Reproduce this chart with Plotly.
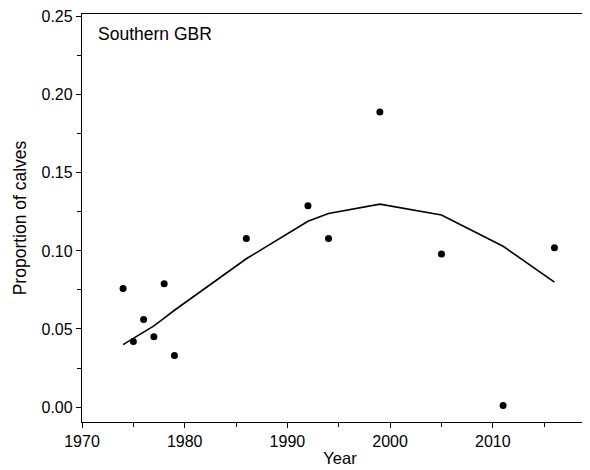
"""
Proportion of calves per year, Southern GBR
"""

import plotly.graph_objects as go

# observed proportions
anos = [1974, 1975, 1976, 1977, 1978, 1979, 1986, 1992, 1994, 1999, 2005, 2011, 2016]
proporcao = [0.076, 0.042, 0.056, 0.045, 0.079, 0.033, 0.108, 0.129, 0.108, 0.189, 0.098, 0.001, 0.102]

# fitted trend at the same years
ajuste = [0.040, 0.044, 0.048, 0.052, 0.057, 0.062, 0.095, 0.119, 0.124, 0.130, 0.123, 0.103, 0.080]

FONTE = "Liberation Sans, Arial, sans-serif"

fig = go.Figure()

fig.add_trace(
    go.Scatter(
        x=anos,
        y=ajuste,
        mode="lines",
        line=dict(color="black", width=1.6),
        showlegend=False
    )
)

fig.add_trace(
    go.Scatter(
        x=anos,
        y=proporcao,
        mode="markers",
        marker=dict(color="black", size=7),
        showlegend=False
    )
)

fig.add_annotation(
    text="Southern GBR",
    xref="paper",
    yref="paper",
    x=0.0,
    y=0.95,
    xshift=14,
    xanchor="left",
    yanchor="middle",
    showarrow=False,
    font=dict(family=FONTE, size=17.5, color="black")
)

# the page body adds 8px on the left and top, so margins are reduced by that
fig.update_layout(
    width=590,
    height=470,
    margin=dict(l=74, r=0, t=6, b=56),
    plot_bgcolor="white",
    paper_bgcolor="white",
    font=dict(family=FONTE, size=16, color="black"),
    xaxis=dict(
        range=[1970, 2020.24],
        tickvals=[1970, 1980, 1990, 2000, 2010, 2020],
        ticks="outside",
        ticklen=5,
        tickcolor="black",
        showline=True,
        linecolor="black",
        linewidth=1.3,
        mirror=True,
        showgrid=False,
        zeroline=False,
        automargin=False,
        minor=dict(ticks="outside", ticklen=4, dtick=5, tick0=1970, tickcolor="black", showgrid=False),
        title=dict(text="Year", standoff=3, font=dict(size=16.5)),
        tickfont=dict(size=16)
    ),
    yaxis=dict(
        range=[-0.0096, 0.2518],
        tickvals=[0, 0.05, 0.10, 0.15, 0.20, 0.25],
        tickformat=".2f",
        ticks="outside",
        ticklen=5,
        tickcolor="black",
        showline=True,
        linecolor="black",
        linewidth=1.3,
        showgrid=False,
        zeroline=False,
        automargin=False,
        minor=dict(ticks="outside", ticklen=4, dtick=0.025, tick0=0, tickcolor="black", showgrid=False),
        title=dict(text="Proportion of calves", standoff=10, font=dict(size=17.5)),
        tickfont=dict(size=16)
    )
)

fig.write_html("out.html")
